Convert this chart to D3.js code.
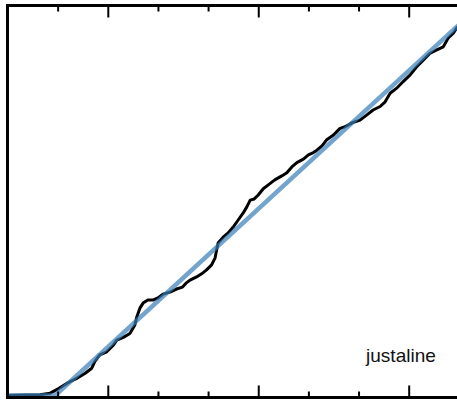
<!DOCTYPE html>
<html>
<head>
<meta charset="utf-8">
<script src="https://cdn.jsdelivr.net/npm/d3@7"></script>
<style>
  html, body { margin: 0; padding: 0; background: #fff; overflow: hidden; }
  svg { display: block; }
</style>
</head>
<body>
<svg id="chart" width="457" height="401"></svg>
<script>
// ---- data ----
const sampleX = [0, 0.34, 0.64, 0.84, 1.00, 1.17, 1.37, 1.54, 1.67, 1.73, 1.83, 1.97, 2.10, 2.17, 2.30, 2.43, 2.53, 2.57, 2.63, 2.70,
  2.79, 2.90, 2.99, 3.09, 3.23, 3.36, 3.48, 3.55, 3.63, 3.76, 3.86, 3.96, 4.06, 4.13, 4.16, 4.19, 4.29, 4.39, 4.49, 4.59,
  4.69, 4.76, 4.83, 4.91, 4.99, 5.09, 5.19, 5.32, 5.46, 5.56, 5.66, 5.76, 5.89, 5.99, 6.09, 6.16, 6.26, 6.35, 6.49, 6.62,
  6.72, 6.86, 7.02, 7.15, 7.28, 7.42, 7.52, 7.62, 7.75, 7.88, 8.02, 8.15, 8.28, 8.41, 8.55, 8.68, 8.78, 8.88, 8.95, 9.21];
const sampleY = [0, 0.1, 0.2, 0.6, 1.7, 3.1, 4.4, 5.7, 7.0, 8.7, 10.4, 11.2, 12.9, 14.2, 14.9, 15.9, 18.1, 20.2, 22.4, 23.8,
  24.5, 24.5, 25.0, 26.0, 26.5, 27.3, 27.8, 28.8, 29.6, 30.4, 31.2, 32.2, 33.5, 35.3, 37.3, 39.1, 40.6, 41.7, 43.2, 45.0,
  46.8, 48.3, 50.1, 50.4, 51.4, 53.0, 54.0, 55.3, 56.3, 57.1, 58.6, 59.7, 60.6, 61.7, 62.3, 62.9, 64.0, 65.5, 66.8, 68.5,
  68.9, 69.9, 70.6, 71.9, 73.2, 74.1, 75.3, 77.5, 78.8, 80.5, 82.2, 84.3, 86.0, 87.7, 88.6, 89.4, 91.7, 92.9, 94.3, 95.8];
const lineX = [0, 0.94, 9.41];
const lineY = [0, 0, 100];
const minorTicks = [1, 3, 4, 6, 7, 9];
const majorTicks = [2, 5, 8];
const labelText = "justaline";

// ---- layout ----
const svg = d3.select("#chart");
const frameL = 7.5, frameT = 5.5, frameB = 397.5, frameR = 490;
const x = d3.scaleLinear().domain([0, 10]).range([8, 509.5]);
const y = d3.scaleLinear().domain([0, 100]).range([395.5, 5.5]);

svg.append("defs").append("clipPath").attr("id", "plotclip")
  .append("rect").attr("x", frameL).attr("y", frameT).attr("width", frameR - frameL).attr("height", frameB - frameT);

const plot = svg.append("g").attr("clip-path", "url(#plotclip)");

const sample = sampleX.map((v, i) => [v, sampleY[i]]);
const fit = lineX.map((v, i) => [v, lineY[i]]);
const gen = d3.line().x(d => x(d[0])).y(d => y(d[1]));

plot.append("path").datum(sample).attr("d", gen)
  .attr("fill", "none").attr("stroke", "#000").attr("stroke-width", 3)
  .attr("stroke-linejoin", "round").attr("stroke-linecap", "round");

plot.append("path").datum(fit).attr("d", gen)
  .attr("fill", "none").attr("stroke", "#377eb8").attr("stroke-opacity", 0.7)
  .attr("stroke-width", 4.5);

// frame
svg.append("rect").attr("x", frameL).attr("y", frameT)
  .attr("width", frameR - frameL).attr("height", frameB - frameT)
  .attr("fill", "none").attr("stroke", "#000").attr("stroke-width", 3);

// ticks (inward, top and bottom), drawn after the frame
const tickData = minorTicks.map(v => ({ v, len: 6 })).concat(majorTicks.map(v => ({ v, len: 12 })));
const tickPath = d3.path();
tickData.forEach(d => {
  tickPath.moveTo(x(d.v), frameB); tickPath.lineTo(x(d.v), frameB - d.len);
  tickPath.moveTo(x(d.v), frameT); tickPath.lineTo(x(d.v), frameT + d.len);
});
svg.append("path").attr("d", tickPath.toString())
  .attr("fill", "none").attr("stroke", "#000").attr("stroke-width", 2);

// label
svg.append("text").attr("x", x(7.14)).attr("y", y(8.5))
  .attr("font-family", "'Liberation Sans', Arial, Helvetica, sans-serif")
  .attr("font-size", 19).attr("fill", "#111")
  .text(labelText);
</script>
</body>
</html>
